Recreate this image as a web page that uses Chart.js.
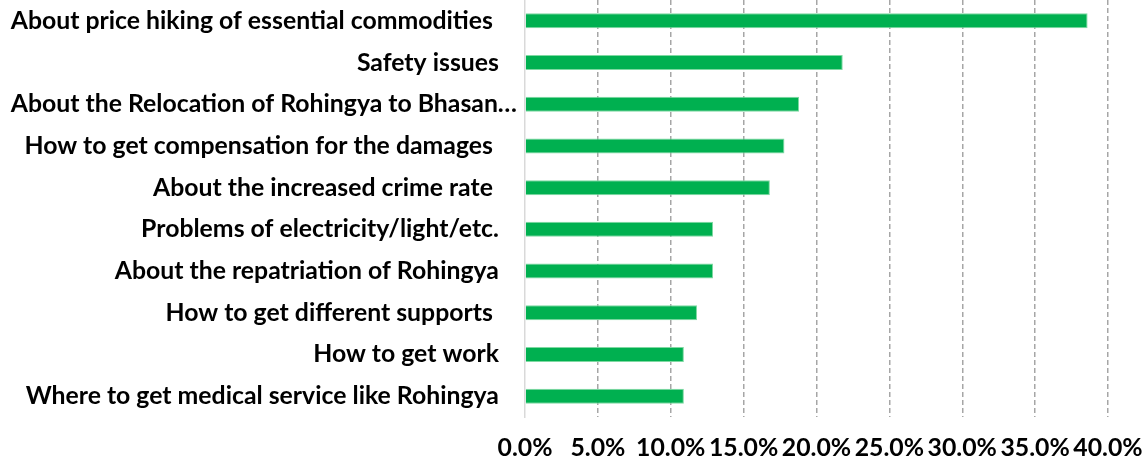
<!DOCTYPE html>
<html>
<head>
<meta charset="utf-8">
<script src="https://cdn.jsdelivr.net/npm/chart.js@4.4.1/dist/chart.umd.min.js"></script>
<style>
  html, body { margin: 0; padding: 0; background: #ffffff; }
  #wrap { width: 1148px; height: 463px; position: relative; }
</style>
</head>
<body>
<div id="wrap"><canvas id="c" width="1148" height="463"></canvas></div>
<script>
// ---- data ----
const categories = [
  "About price hiking of essential commodities ",
  "Safety issues",
  "About the Relocation of Rohingya to Bhasan…",
  "How to get compensation for the damages ",
  "About the increased crime rate ",
  "Problems of electricity/light/etc.",
  "About the repatriation of Rohingya",
  "How to get different supports ",
  "How to get work",
  "Where to get medical service like Rohingya"
];
const values = [38.6, 21.8, 18.8, 17.8, 16.8, 12.9, 12.9, 11.8, 10.9, 10.9];
const xTicks = [0, 5, 10, 15, 20, 25, 30, 35, 40];

// ---- font sizing ----
const family = "Lato, 'Open Sans', 'Liberation Sans', sans-serif";
const mctx = document.createElement('canvas').getContext('2d');
mctx.font = "bold 100px " + family;
const refW = mctx.measureText("About price hiking of essential commodities").width;
const fontSize = Math.round(483 / refW * 100 * 10) / 10;

const chart = new Chart(document.getElementById('c'), {
  type: 'bar',
  data: {
    labels: categories,
    datasets: [{
      data: values,
      backgroundColor: '#00B050',
      borderColor: '#7FD9A2',
      borderWidth: 1,
      borderSkipped: 'start',
      barPercentage: 0.36,
      categoryPercentage: 1.0
    }]
  },
  options: {
    indexAxis: 'y',
    responsive: false,
    animation: false,
    devicePixelRatio: 1,
    layout: { padding: { left: 0, right: 40, top: 0, bottom: 0 } },
    plugins: { legend: { display: false }, tooltip: { enabled: false } },
    scales: {
      x: {
        min: 0, max: 40,
        afterBuildTicks: (s) => { s.ticks = xTicks.map(v => ({ value: v })); },
        afterFit: (s) => { s.height = 46; s.paddingLeft = 0; s.paddingRight = 0; },
        grid: {
          drawTicks: false,
          color: (ctx) => ctx.tick && ctx.tick.value === 0 ? 'rgba(0,0,0,0)' : '#A6A6A6',
          lineWidth: 1.5
        },
        border: { display: false, dash: [5, 3] },
        ticks: {
          padding: 16,
          autoSkip: false,
          maxRotation: 0,
          minRotation: 0,
          color: '#000000',
          font: { family: family, size: fontSize, weight: 'bold' },
          callback: (v) => Number(v).toFixed(1) + '%'
        }
      },
      y: {
        afterFit: (s) => { s.width = 525; s.paddingTop = 0; s.paddingBottom = 0; },
        grid: { display: false, drawTicks: false },
        border: { display: true, color: '#D9D9D9', width: 1.5 },
        ticks: {
          padding: 8,
          autoSkip: false,
          color: '#000000',
          font: { family: family, size: fontSize, weight: 'bold' },
          callback: function (v, i) {
            const l = this.getLabelForValue(v);
            return l.endsWith('…') ? l : l + '   ';
          }
        }
      }
    }
  }
});
</script>
</body>
</html>
